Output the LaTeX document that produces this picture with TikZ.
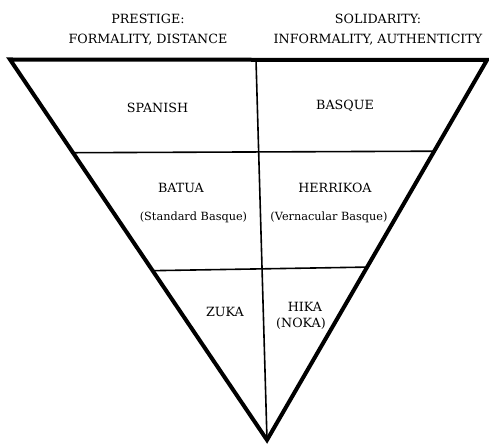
\documentclass[tikz,border=0pt]{standalone}
\usepackage{fontspec}
\setmainfont{DejaVu Serif}
\usepackage{tikz}
\usetikzlibrary{positioning, calc}

\begin{document}
\begin{tikzpicture}[x=1pt, y=-1pt,
    every node/.style={align=center, inner sep=0pt},
    head/.style={font=\fontsize{12.7}{20}\selectfont},
    lang/.style={font=\fontsize{12.7}{15}\selectfont},
    gloss/.style={font=\fontsize{11.3}{14}\selectfont},
    outer/.style={line width=4pt, line join=miter},
    inner/.style={line width=1.6pt}]
  \useasboundingbox (0,0) rectangle (489,446);

  % Corners of the triangle
  \coordinate (TL) at (10,59.5);
  \coordinate (TR) at (487,60);
  \coordinate (A) at (267,440);
  \coordinate (M) at (256,60);

  % Dividing lines
  \coordinate (L1) at ($(TL)!0.245!(A)$);
  \coordinate (R1) at ($(TR)!0.24!(A)$);
  \coordinate (L2) at ($(TL)!0.555!(A)$);
  \coordinate (R2) at ($(TR)!0.545!(A)$);

  % Headings
  \node[head] (prestige) at (148,30) {PRESTIGE:\\FORMALITY, DISTANCE};
  \node[head] (solidarity) at (378,30) {SOLIDARITY:\\INFORMALITY, AUTHENTICITY};

  % Top row
  \node[lang] (spanish) at (157.5,108) {SPANISH};
  \node[lang] (basque) at (345,106) {BASQUE};

  % Middle row
  \node[lang] (batua) at (181,188) {BATUA};
  \node[gloss] (standard) at (193.5,217) {(Standard Basque)};
  \node[lang] (herrikoa) at (335,188) {HERRIKOA};
  \node[gloss] (vernacular) at (329,217) {(Vernacular Basque)};

  % Bottom row
  \node[lang] (zuka) at (225,312) {ZUKA};
  \node[lang] (hika) at (305,307) {HIKA};
  \node[lang] (noka) at (301,324) {(NOKA)};

  % Lines
  \draw[inner] (M) -- (A);
  \draw[inner] (L1) -- (R1);
  \draw[inner] (L2) -- (R2);
  \draw[outer] (TL) -- (TR) -- (A) -- cycle;
\end{tikzpicture}
\end{document}
